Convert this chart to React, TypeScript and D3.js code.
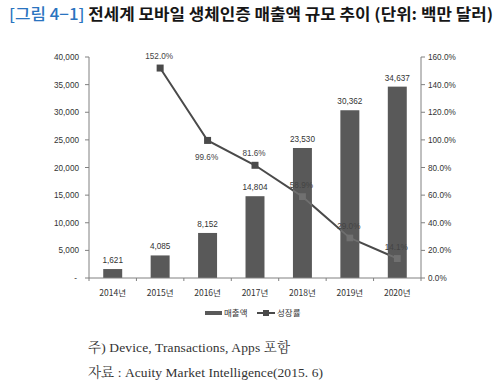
import React from "react";
import * as d3 from "d3";

const years = ["2014년", "2015년", "2016년", "2017년", "2018년", "2019년", "2020년"];
const revenue = [1621, 4085, 8152, 14804, 23530, 30362, 34637];
const growth: (number | null)[] = [null, 152.0, 99.6, 81.6, 58.9, 29.0, 14.1];
const growthLabelSide = ["", "above", "below", "above", "above", "above", "above"];
const leftTicks = [0, 5000, 10000, 15000, 20000, 25000, 30000, 35000, 40000];
const rightTicks = [0, 20, 40, 60, 80, 100, 120, 140, 160];

const W = 498;
const H = 383;
const L = 89, R = 421, T = 57, B = 278;
const axisColor = "#808080";
const barColor = "#595959";
const lineColor = "#4a4a4a";
const sans = "'Liberation Sans', Arial, 'Noto Sans CJK KR', sans-serif";
const kr = "'Noto Sans CJK KR', sans-serif";
const serif = "'Liberation Serif', 'Noto Serif CJK KR', 'Noto Sans CJK KR', serif";

export default function App() {
  const x = d3.scaleBand<string>().domain(years).range([L, R]).paddingInner(0.6).paddingOuter(0.3);
  const y = d3.scaleLinear().domain([0, 40000]).range([B, T]);
  const y2 = d3.scaleLinear().domain([0, 160]).range([B, T]);
  const step = (R - L) / years.length;
  const cx = (d: string) => (x(d) as number) + x.bandwidth() / 2;

  const pts = years
    .map((yr, i) => ({ yr, v: growth[i], side: growthLabelSide[i] }))
    .filter((p) => p.v !== null) as { yr: string; v: number; side: string }[];
  const line = d3
    .line<{ yr: string; v: number }>()
    .x((d) => cx(d.yr))
    .y((d) => y2(d.v));
  const path = line(pts) || "";
  const fmt = d3.format(",");
  const pfmt = (v: number) => d3.format(".1f")(v) + "%";

  return (
    <svg width={W} height={H} style={{ position: "absolute", left: 0, top: 0, background: "#fff" }}>
      <defs>
        <clipPath id="barsClip">
          {years.map((yr, i) => (
            <rect key={yr} x={x(yr)} y={y(revenue[i])} width={x.bandwidth()} height={B - y(revenue[i])} />
          ))}
        </clipPath>
      </defs>
      {/* Title */}
      <text x={9} y={20} fontFamily={kr} fontSize={15.5} fontWeight={700} textLength={484} lengthAdjust="spacingAndGlyphs">
        <tspan fill="#2a74c0" fontWeight={500}>[그림 4−1]</tspan>
        <tspan fill="#161616"> 전세계 모바일 생체인증 매출액 규모 추이 (단위: 백만 달러)</tspan>
      </text>

      {/* left axis */}
      <line x1={L} x2={L} y1={T} y2={B} stroke={axisColor} strokeWidth={1} />
      {leftTicks.map((t) => (
        <g key={"l" + t}>
          <line x1={L - 4} x2={L} y1={y(t)} y2={y(t)} stroke={axisColor} />
          <text x={t === 0 ? 77 : 79} y={y(t) + 3} textAnchor="end" fontFamily={sans} fontSize={8.2} fill="#333">
            {t === 0 ? "-" : fmt(t)}
          </text>
        </g>
      ))}
      {/* right axis */}
      <line x1={R} x2={R} y1={T} y2={B} stroke={axisColor} strokeWidth={1} />
      {rightTicks.map((t) => (
        <g key={"r" + t}>
          <line x1={R} x2={R + 4} y1={y2(t)} y2={y2(t)} stroke={axisColor} />
          <text x={428} y={y2(t) + 3} textAnchor="start" fontFamily={sans} fontSize={8.2} fill="#333">
            {pfmt(t)}
          </text>
        </g>
      ))}

      {/* bars */}
      {years.map((yr, i) => (
        <g key={"b" + yr}>
          <rect x={x(yr)} y={y(revenue[i])} width={x.bandwidth()} height={B - y(revenue[i])} fill={barColor} />
          <text x={cx(yr)} y={y(revenue[i]) - 6} textAnchor="middle" fontFamily={sans} fontSize={8.2} fill="#333">
            {fmt(revenue[i])}
          </text>
        </g>
      ))}

      {/* bottom axis */}
      <line x1={L} x2={R} y1={B} y2={B} stroke={axisColor} />
      {d3.range(years.length + 1).map((i) => (
        <line key={"xt" + i} x1={L + i * step} x2={L + i * step} y1={B} y2={B + 3} stroke={axisColor} />
      ))}
      {years.map((yr) => (
        <text key={"xl" + yr} x={cx(yr)} y={296} textAnchor="middle" fontFamily={kr} fontSize={8.5} fill="#333">
          {yr}
        </text>
      ))}

      {/* growth line */}
      <path d={path} fill="none" stroke={lineColor} strokeWidth={2} />
      {pts.map((p) => (
        <rect key={"m" + p.yr} x={cx(p.yr) - 3.5} y={y2(p.v) - 3.5} width={7} height={7} fill={lineColor} />
      ))}
      <g clipPath="url(#barsClip)">
        <path d={path} fill="none" stroke="#6e6e6e" strokeWidth={2} />
        {pts.map((p) => (
          <rect key={"mc" + p.yr} x={cx(p.yr) - 3.5} y={y2(p.v) - 3.5} width={7} height={7} fill="#707070" />
        ))}
      </g>
      {pts.map((p) => (
        <text
          key={"gl" + p.yr}
          x={cx(p.yr) - 1}
          y={p.side === "below" ? y2(p.v) + 20 : y2(p.v) - 9}
          textAnchor="middle"
          fontFamily={sans}
          fontSize={8.2}
          fill="#444"
        >
          {pfmt(p.v)}
        </text>
      ))}

      {/* legend */}
      <rect x={205} y={311} width={17} height={4} fill={barColor} />
      <text x={224} y={316} fontFamily={kr} fontSize={8.5} fill="#333">매출액</text>
      <line x1={257} x2={275} y1={313} y2={313} stroke={lineColor} strokeWidth={2} />
      <rect x={263} y={310} width={6} height={6} fill={lineColor} />
      <text x={277} y={316} fontFamily={kr} fontSize={8.5} fill="#333">성장률</text>

      {/* footnotes */}
      <text x={88} y={352} fontFamily={serif} fontSize={13.5} fill="#333" textLength={202} lengthAdjust="spacing">주) Device, Transactions, Apps 포함</text>
      <text x={88} y={377} fontFamily={serif} fontSize={13.5} fill="#333" textLength={235} lengthAdjust="spacing">자료 : Acuity Market Intelligence(2015. 6)</text>
    </svg>
  );
}
